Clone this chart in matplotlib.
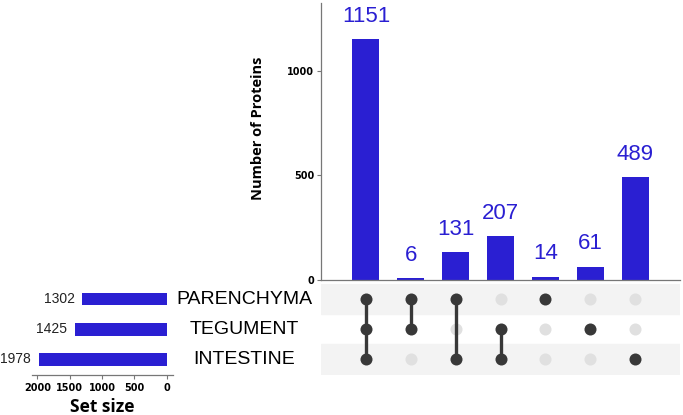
import numpy as np
import matplotlib
matplotlib.use('Agg')
import matplotlib.pyplot as plt

# data
set_names = ['INTESTINE', 'TEGUMENT', 'PARENCHYMA']  # bottom to top
set_sizes = [1978, 1425, 1302]
inter_counts = [1151, 6, 131, 207, 14, 61, 489]
# membership per intersection: (PARENCHYMA, TEGUMENT, INTESTINE)
memberships = [
    (1, 1, 1),
    (1, 1, 0),
    (1, 0, 1),
    (0, 1, 1),
    (1, 0, 0),
    (0, 1, 0),
    (0, 0, 1),
]
bar_ticks = [0, 500, 1000]
size_ticks = [2000, 1500, 1000, 500, 0]

BLUE = '#2a1fd2'
DARK = '#383838'
LIGHT = '#e0e0e0'
STRIPE = '#f3f3f3'
AXC = '#777777'

W, H = 683, 415
fig = plt.figure(figsize=(W / 100, H / 100), dpi=100)


def px_axes(x0, y0, x1, y1):
    # pixel box (top-left origin) -> figure axes
    return fig.add_axes([x0 / W, 1 - y1 / H, (x1 - x0) / W, (y1 - y0) / H])


xs = np.arange(len(inter_counts))

# intersection bars
ax_bar = px_axes(321, 3, 680, 279.5)
ax_bar.bar(xs, inter_counts, width=0.6, color=BLUE)
for x, v in zip(xs, inter_counts):
    ax_bar.annotate(str(v), (x, v), xytext=(0, 12.5), textcoords='offset points',
                    ha='center', va='baseline', color=BLUE, fontsize=16,
                    family='Liberation Sans')
ax_bar.set_xlim(-1, len(inter_counts))
ax_bar.set_ylim(0, 1323)
ax_bar.set_yticks(bar_ticks)
ax_bar.set_yticklabels([str(t) for t in bar_ticks], fontsize=7,
                       fontweight='bold')
ax_bar.set_xticks([])
for s in ['top', 'right']:
    ax_bar.spines[s].set_visible(False)
for s in ['left', 'bottom']:
    ax_bar.spines[s].set_color(AXC)
    ax_bar.spines[s].set_linewidth(0.9)
ax_bar.tick_params(axis='y', length=3, color=AXC, pad=2)
fig.text(258 / W, 1 - 128 / H, 'Number of Proteins', rotation=90,
         ha='center', va='center', fontsize=10.5, fontweight='bold',
         family='Open Sans')

# matrix
ax_m = px_axes(321, 284, 680, 374.5)
ax_m.set_xlim(-1, len(inter_counts))
ax_m.set_ylim(-0.5, len(set_names) - 0.5)
for r in range(len(set_names)):
    if r % 2 == 0:
        ax_m.axhspan(r - 0.5, r + 0.5, color=STRIPE, zorder=0)
for x, mem in zip(xs, memberships):
    # mem order is top->bottom, rows are bottom->top
    rows_on = [2 - i for i, m in enumerate(mem) if m]
    rows_off = [2 - i for i, m in enumerate(mem) if not m]
    ax_m.scatter([x] * len(rows_off), rows_off, s=75, color=LIGHT,
                 zorder=2, linewidths=0)
    ax_m.scatter([x] * len(rows_on), rows_on, s=75, color=DARK,
                 zorder=3, linewidths=0)
    if len(rows_on) > 1:
        ax_m.plot([x, x], [min(rows_on), max(rows_on)], color=DARK, lw=2.4,
                  zorder=3)
ax_m.axis('off')

# set names
for r, name in enumerate(set_names):
    fig.text(244 / W, 1 - (359.5 - r * 30.2) / H, name, ha='center',
             va='center', fontsize=14, family='Liberation Sans')

# set sizes
ax_s = px_axes(32, 284, 173, 374.5)
ax_s.barh(np.arange(len(set_names)), set_sizes, height=0.42, color=BLUE)
for r, v in enumerate(set_sizes):
    ax_s.text(v + 120, r, str(v), ha='right', va='center', fontsize=10,
              family='Liberation Sans', color='#222222')
ax_s.set_xlim(2082, -97)
ax_s.set_ylim(-0.5, len(set_names) - 0.5)
ax_s.set_xticks(size_ticks)
ax_s.set_xticklabels([str(t) for t in size_ticks], fontsize=7,
                     fontweight='bold')
ax_s.set_yticks([])
for s in ['top', 'right', 'left']:
    ax_s.spines[s].set_visible(False)
ax_s.spines['bottom'].set_color(AXC)
ax_s.spines['bottom'].set_linewidth(0.9)
ax_s.tick_params(axis='x', length=3, color=AXC, pad=3)
ax_s.set_xlabel('Set size', fontsize=12.5, fontweight='bold',
                family='Open Sans', labelpad=4)

fig.savefig('out.png', dpi=100)
